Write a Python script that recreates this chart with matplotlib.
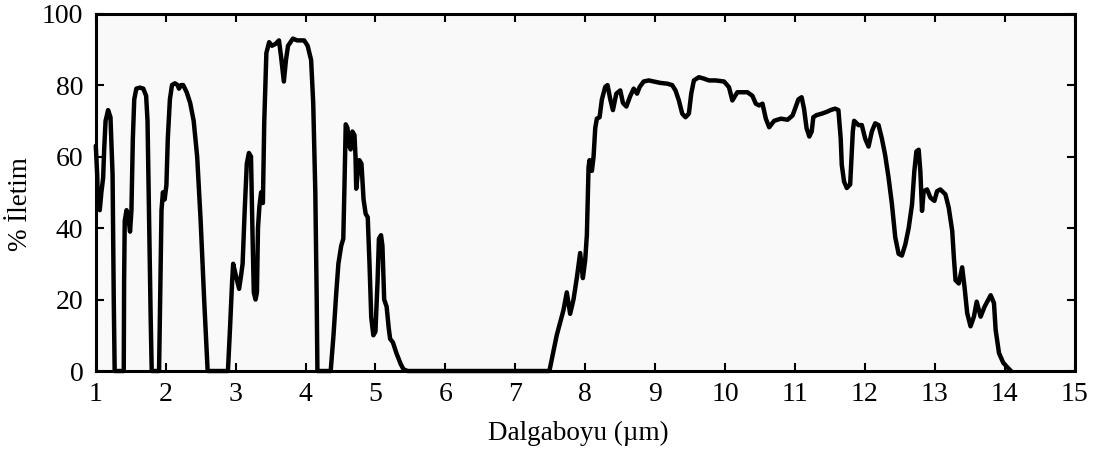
import numpy as np
import matplotlib.pyplot as plt

# atmospheric transmission
wavelength = [
    1.00, 1.02, 1.03, 1.057, 1.08, 1.105, 1.12, 1.14, 1.176, 1.21, 1.24, 1.257, 1.27,
    1.40, 1.405, 1.414, 1.44, 1.465, 1.49, 1.51, 1.53, 1.55, 1.58, 1.63, 1.68, 1.72,
    1.74, 1.765, 1.785, 1.80,
    1.905, 1.92, 1.94, 1.96, 1.985, 2.01, 2.03, 2.06, 2.09, 2.13, 2.17, 2.19, 2.22,
    2.25, 2.30, 2.35, 2.40, 2.45, 2.50, 2.55, 2.60,
    2.89, 2.92, 2.95, 2.965, 3.00, 3.05, 3.08, 3.10, 3.13, 3.16, 3.19, 3.22, 3.24,
    3.26, 3.285, 3.305, 3.32, 3.34, 3.365, 3.39, 3.41, 3.44, 3.48, 3.52, 3.57, 3.62,
    3.65, 3.69, 3.72, 3.75, 3.82, 3.88, 3.98, 4.03, 4.08, 4.11, 4.14, 4.16, 4.17,
    4.36, 4.40, 4.44, 4.47, 4.51, 4.54, 4.555, 4.575, 4.60, 4.625, 4.645, 4.67, 4.70,
    4.715, 4.725, 4.745, 4.77, 4.80, 4.83, 4.86, 4.89, 4.915, 4.94, 4.97, 5.00, 5.03,
    5.05, 5.08, 5.10, 5.125, 5.16, 5.19, 5.21, 5.25, 5.30, 5.36, 5.40, 5.46,
    7.488, 7.593, 7.689, 7.737, 7.785, 7.833, 7.880, 7.928, 7.967, 8.00, 8.024, 8.048,
    8.062, 8.096, 8.12, 8.144, 8.167, 8.206, 8.239, 8.287, 8.32, 8.359, 8.397, 8.445,
    8.502, 8.54, 8.589, 8.646, 8.694, 8.742, 8.78, 8.837, 8.909, 8.981, 9.077, 9.172,
    9.244, 9.292, 9.34, 9.388, 9.435, 9.483, 9.517, 9.555, 9.627, 9.699, 9.77, 9.866,
    9.986, 10.057, 10.105, 10.177, 10.32, 10.392, 10.44, 10.488, 10.536, 10.584,
    10.632, 10.703, 10.799, 10.895, 10.967, 11.05, 11.096, 11.13, 11.167, 11.206,
    11.24, 11.263, 11.31, 11.383, 11.455, 11.51, 11.574, 11.622, 11.655, 11.67,
    11.703, 11.742, 11.79, 11.828, 11.847, 11.909, 11.957, 12.005, 12.053, 12.10,
    12.148, 12.196, 12.244, 12.29, 12.34, 12.388, 12.435, 12.483, 12.53, 12.58,
    12.627, 12.675, 12.708, 12.737, 12.77, 12.794, 12.818, 12.842, 12.89, 12.938,
    12.995, 13.033, 13.08, 13.153, 13.20, 13.25, 13.273, 13.297, 13.344, 13.392,
    13.426, 13.464, 13.512, 13.56, 13.60, 13.656, 13.713, 13.80, 13.847, 13.871,
    13.919, 13.98, 14.04, 14.09,
]
transmission = [
    63, 55, 47, 45, 50, 54, 62, 70, 73, 71, 55, 20, 0,
    0, 25, 42, 45, 43, 39, 45, 65, 76, 79, 79.3, 79, 77,
    70, 40, 15, 0,
    0, 20, 45, 50, 48, 52, 65, 76, 80, 80.5, 80, 79, 80,
    80, 78, 75, 70, 60, 42, 20, 0,
    0, 12, 25, 30, 27, 23, 27, 30, 45, 58, 61, 60, 40,
    22, 20, 22, 40, 46, 50, 47, 70, 89, 92, 91, 91.5, 92.5,
    88, 81, 87, 91, 93, 92.5, 92.5, 91, 87, 75, 50, 20, 0,
    0, 10, 22, 30, 35, 37, 50, 69, 68, 63, 62, 67, 66,
    60, 51, 55, 59, 58, 48, 44, 43, 30, 15, 10, 11, 25,
    37, 38, 35, 20, 18, 12, 9, 8, 5, 2, 0.5, 0,
    0, 10, 17, 22, 16, 20, 26, 33, 26, 31, 38, 57,
    59, 56, 60, 68, 70.6, 71, 76, 79.5, 80, 76, 73, 77.6,
    78.5, 75, 74, 77, 79, 77.6, 79.5, 81, 81.3, 81, 80.6, 80.4,
    80, 78.5, 75.7, 72, 71, 72, 77.6, 81.3, 82.2, 81.8, 81.3, 81.3,
    81, 79.4, 75.7, 78, 78, 77, 74.8, 74.3, 74.8, 70.6,
    68.2, 70, 70.6, 70.3, 71.5, 76, 76.6, 73.4, 67.9, 65.6,
    67, 71, 71.6, 72, 72.5, 73, 73.4, 73, 65, 57.7,
    53, 51.2, 52.2, 67, 70, 68.8, 68.8, 65, 62.8, 67,
    69.3, 68.8, 65, 60.5, 54, 46.6, 37.4, 32.8, 32.3, 35.5,
    40, 46.6, 55.9, 61.4, 61.9, 55.9, 44.8, 50.3, 50.8, 48.5,
    47.6, 50.3, 50.8, 49.4, 45.7, 39.2, 31.9, 25.4, 24.5, 29,
    23.5, 16.2, 12.5, 15.2, 19.4, 15.2, 18, 21.2, 19, 11.5,
    5, 2.3, 1, 0,
]
x_ticks = list(range(1, 16))
y_ticks = [0, 20, 40, 60, 80, 100]

plt.rcParams['font.family'] = ['Liberation Serif', 'DejaVu Serif']

fig = plt.figure(figsize=(11.01, 4.53), dpi=100)
ax = fig.add_axes([0.087, 0.181, 0.889, 0.789])
ax.set_facecolor('#f9f9f9')

ax.plot(wavelength, transmission, color='black', lw=3.2,
        solid_joinstyle='round', solid_capstyle='round', clip_on=False, zorder=3)

ax.set_xlim(1, 15)
ax.set_ylim(0, 100)
ax.set_xticks(x_ticks)
ax.set_yticks(y_ticks)
ax.tick_params(direction='in', length=6, width=1.5, top=True, right=True,
               labelsize=20, colors='black')
ax.tick_params(axis='x', pad=8)
ax.tick_params(axis='y', pad=9)
for s in ax.spines.values():
    s.set_linewidth(2.2)

# axis titles placed where they sit in the scan
fig.text(578 / 1101, 1 - 433 / 453, 'Dalgaboyu (µm)', fontsize=19.5,
         ha='center', va='center')
fig.text(21 / 1101, 1 - 204 / 453, '% İletim', fontsize=19.5,
         rotation=90, ha='center', va='center')

plt.savefig('out.png', dpi=100)
